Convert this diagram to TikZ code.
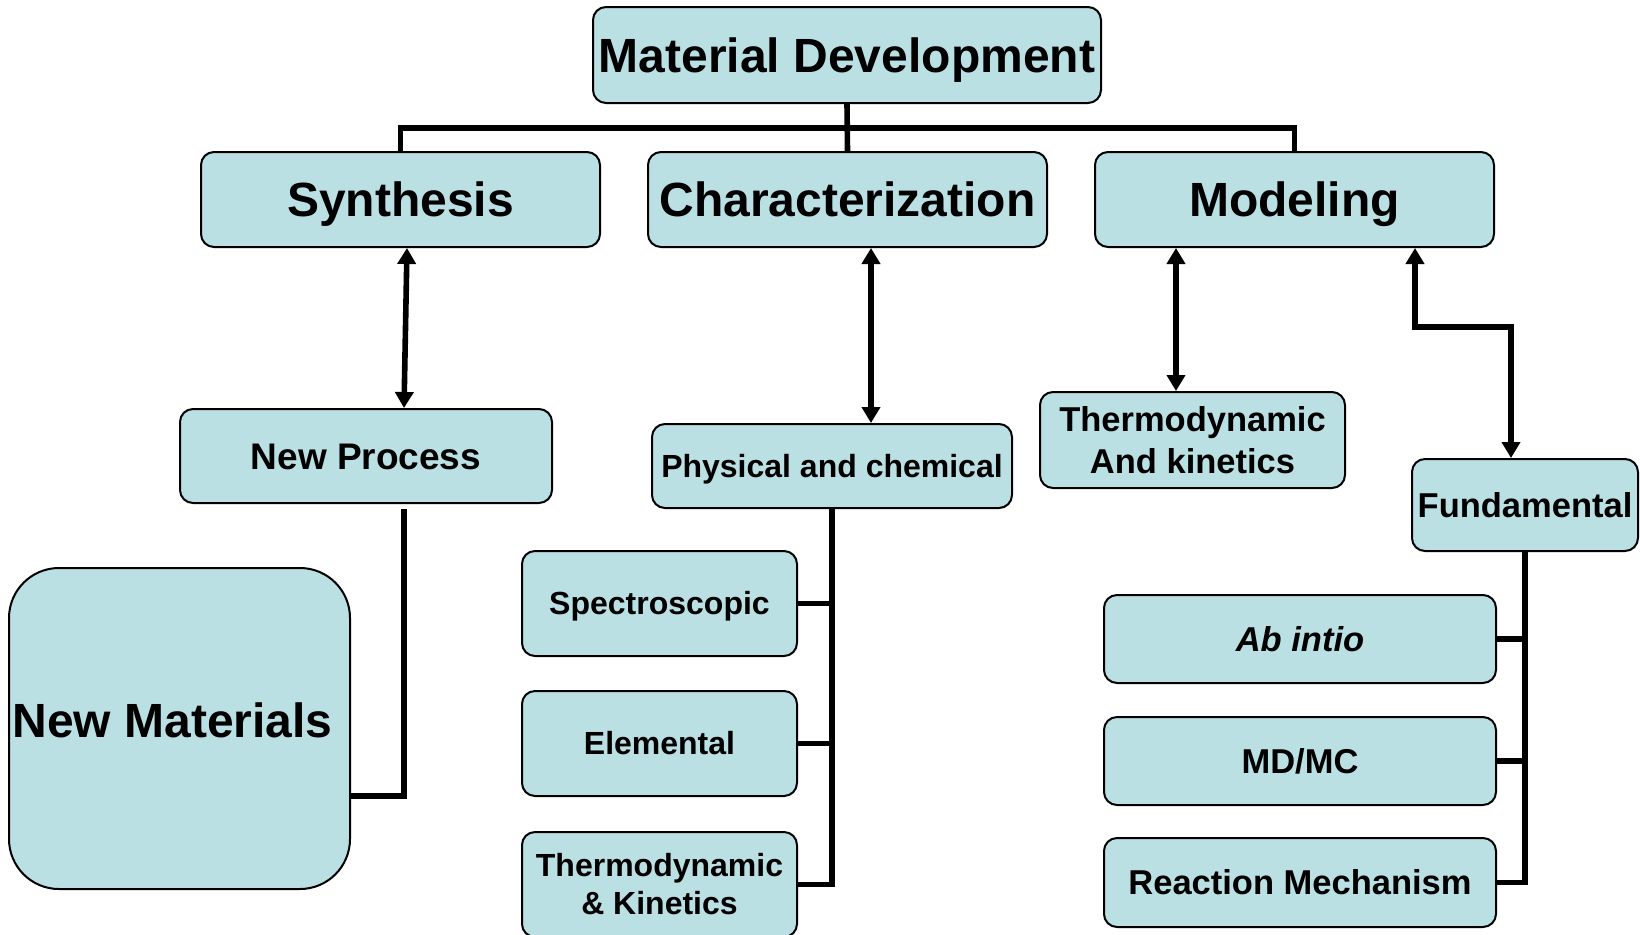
\documentclass[tikz,border=0pt]{standalone}
\usepackage{fontspec}
\setmainfont{Liberation Sans}
\usetikzlibrary{arrows.meta}
\definecolor{boxfill}{RGB}{186,224,228}
\begin{document}
\begin{tikzpicture}[x=0.5pt,y=-0.5pt,
  box/.style={draw=black, line width=1pt, fill=boxfill, rounded corners=6.5pt, inner sep=0pt, align=center},
  fbig/.style={font=\bfseries\fontsize{24pt}{28.8pt}\selectfont, text height=17.2pt, text depth=0pt},
  fnp/.style={font=\bfseries\fontsize{18.5pt}{22pt}\selectfont, text height=13.25pt, text depth=0pt},
  fmed/.style={font=\bfseries\fontsize{17.25pt}{21pt}\selectfont, text height=12.35pt, text depth=0pt},
  fmedm/.style={font=\bfseries\fontsize{17.25pt}{21pt}\selectfont},
  fsmall/.style={font=\bfseries\fontsize{16pt}{19pt}\selectfont, text height=11.45pt, text depth=0pt},
  fsmallm/.style={font=\bfseries\fontsize{16pt}{19pt}\selectfont},
  conn/.style={line width=2.8pt},
  dbl/.style={conn, {Triangle[length=8pt,width=9pt]}-{Triangle[length=8pt,width=9pt]}}
]
\path[use as bounding box, clip] (0,0) rectangle (1640,934);

% nodes
\node[box,fbig,minimum width=254pt,minimum height=48pt] (md) at (847,55) {Material Development};
\node[box,fbig,minimum width=199.5pt,minimum height=47.5pt] (syn) at (400.5,199.5) {Synthesis};
\node[box,fbig,minimum width=199.5pt,minimum height=47.5pt] (chr) at (847.5,199.5) {Characterization};
\node[box,fbig,minimum width=199.5pt,minimum height=47.5pt] (mod) at (1294.5,199.5) {Modeling};

\node[box,fnp,minimum width=186pt,minimum height=47pt] (np) at (366,456) {New Process};
\node[box,fbig,minimum width=170.5pt,minimum height=160.5pt,rounded corners=25pt,text depth=8.5pt] (nm) at (179.5,728.5) {\hspace*{-7pt}New Materials};

\node[box,fsmall,minimum width=180pt,minimum height=42pt] (pc) at (832,466) {Physical and chemical};
\node[box,fsmall,minimum width=137.5pt,minimum height=52.5pt] (spec) at (659.5,603.5) {Spectroscopic};
\node[box,fsmall,minimum width=137.5pt,minimum height=52.5pt] (elem) at (659.5,743.5) {Elemental};
\node[box,fsmallm,minimum width=137.5pt,minimum height=52.5pt] (tk) at (659.5,884.5) {Thermodynamic\\\& Kinetics};

\node[box,fmedm,minimum width=152.5pt,minimum height=48pt] (tak) at (1192.5,440) {Thermodynamic\\And kinetics};
\node[box,fmed,minimum width=113pt,minimum height=46pt] (fund) at (1525,505) {Fundamental};
\node[box,fmed,minimum width=196pt,minimum height=44pt] (abi) at (1300,639) {\itshape Ab intio};
\node[box,fmed,minimum width=196pt,minimum height=44pt] (mdmc) at (1300,761) {MD/MC};
\node[box,fmed,minimum width=196pt,minimum height=44.5pt] (rm) at (1300,882.5) {Reaction Mechanism};

% connectors
\coordinate (bus) at (847,128);
\draw[conn] (md.south) -- (chr.north);
\draw[conn] (syn.north) |- (bus) -| (mod.north);

\draw[dbl] ([xshift=3.25pt]syn.south) -- ([xshift=19pt]np.north);
\draw[conn, shorten <=2.5pt] ([xshift=19pt]np.south) |- ([yshift=-33.75pt]nm.east);

\draw[dbl] ([xshift=11.75pt]chr.south) -- ([xshift=19.5pt]pc.north);
\draw[conn] (pc.south) |- (tk.east);
\draw[conn] (spec.east) -- (spec.east -| pc.south);
\draw[conn] (elem.east) -- (elem.east -| pc.south);

\draw[dbl] ([xshift=-59.25pt]mod.south) -- ([xshift=-8.25pt]tak.north);
\coordinate (mbend) at (1511,327);
\draw[dbl] ([xshift=60.25pt]mod.south) |- (mbend) -- ([xshift=-7pt]fund.north);
\draw[conn] (fund.south) |- (rm.east);
\draw[conn] (abi.east) -- (abi.east -| fund.south);
\draw[conn] (mdmc.east) -- (mdmc.east -| fund.south);
\end{tikzpicture}
\end{document}
